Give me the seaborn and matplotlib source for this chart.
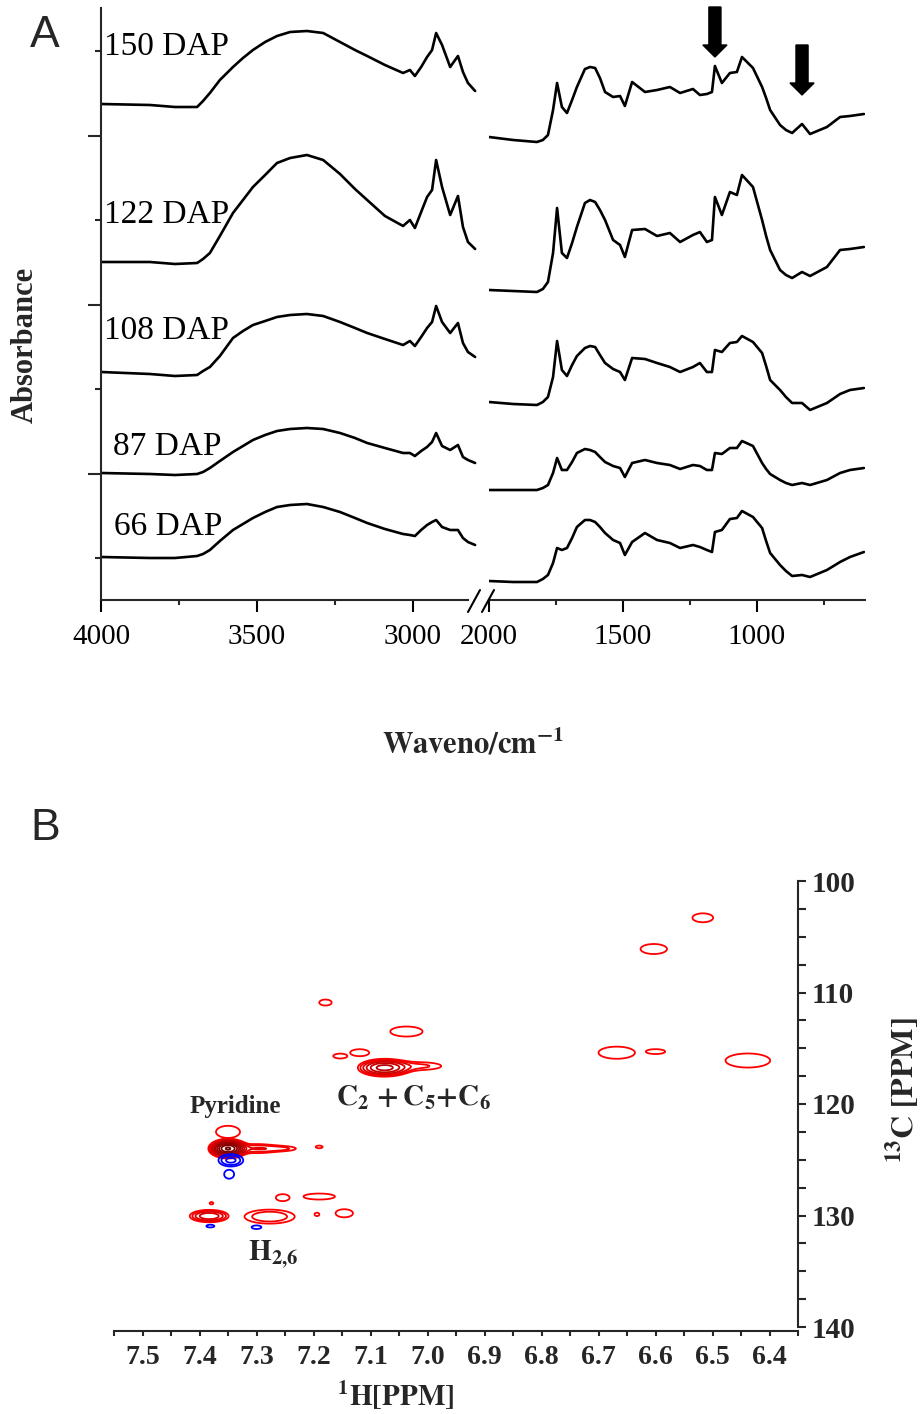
import numpy as np
import pandas as pd
import matplotlib
matplotlib.use("Agg")
import matplotlib.pyplot as plt
import seaborn as sns
from matplotlib.patches import FancyArrow
from matplotlib.lines import Line2D

# ---------------- Panel A data (FTIR, stacked, arbitrary absorbance units) ----------------
samples = ["150 DAP", "122 DAP", "108 DAP", "87 DAP", "66 DAP"]

wn_high = [4000, 3843, 3763, 3692, 3673, 3651, 3619, 3577, 3545, 3513, 3474, 3436, 3394, 3340,
           3288, 3234, 3186, 3147, 3090, 3032, 3010, 2994, 2974, 2955, 2939, 2926, 2907, 2881,
           2856, 2840, 2824, 2801]
abs_high_150 = [454, 453, 451, 451, 457, 465, 478, 491, 500, 508, 516, 522, 526, 527, 525, 516,
                508, 502, 493, 485, 488, 482, 491, 501, 508, 525, 513, 491, 502, 486, 475, 467]
abs_high_122 = [296, 296, 294, 295, 299, 305, 322, 345, 358, 371, 383, 395, 400, 403, 398, 384,
                369, 358, 342, 332, 338, 330, 346, 361, 368, 398, 371, 343, 362, 331, 316, 309]
abs_high_108 = [186, 184, 182, 183, 187, 191, 202, 220, 227, 233, 237, 241, 243, 244, 242, 236,
                230, 225, 219, 213, 217, 212, 221, 230, 236, 252, 236, 225, 235, 215, 206, 201]
abs_high_87 = [85, 84, 83, 84, 86, 90, 97, 106, 112, 118, 123, 127, 129, 130, 129, 125,
               120, 115, 110, 105, 105, 102, 107, 111, 116, 125, 112, 108, 113, 101, 98, 95]
abs_high_66 = [1, 0, 0, 2, 4, 8, 17, 28, 34, 40, 46, 51, 53, 54, 51, 46,
               40, 35, 29, 24, 23, 22, 28, 33, 36, 38, 31, 28, 28, 20, 16, 13]

wn_low = [2000, 1910, 1821, 1799, 1780, 1761, 1746, 1728, 1709, 1690, 1672, 1642, 1623, 1604,
          1586, 1567, 1537, 1511, 1493, 1466, 1418, 1373, 1325, 1287, 1239, 1213, 1187, 1168,
          1157, 1131, 1101, 1075, 1056, 1015, 981, 966, 951, 914, 892, 869, 832, 802, 739, 690,
          653, 601]
abs_low_150 = [421, 418, 416, 418, 423, 448, 475, 451, 445, 458, 471, 489, 491, 490, 480, 466,
               461, 462, 452, 476, 466, 468, 471, 465, 469, 463, 464, 466, 492, 475, 485, 486,
               501, 490, 471, 460, 448, 433, 428, 425, 434, 424, 431, 441, 442, 444]
abs_low_122 = [268, 267, 266, 269, 276, 305, 350, 305, 300, 315, 331, 355, 358, 356, 348, 338,
               318, 313, 301, 328, 329, 322, 325, 316, 323, 326, 316, 318, 361, 343, 366, 363,
               383, 371, 338, 322, 308, 288, 283, 280, 286, 282, 291, 308, 309, 311]
abs_low_108 = [156, 154, 153, 156, 161, 181, 217, 188, 182, 193, 202, 210, 212, 211, 203, 195,
               189, 186, 178, 200, 199, 195, 191, 186, 191, 195, 186, 186, 208, 206, 215, 216,
               222, 216, 205, 192, 178, 168, 161, 155, 155, 148, 155, 164, 168, 170]
abs_low_87 = [68, 68, 68, 70, 73, 85, 100, 88, 88, 96, 105, 109, 108, 106, 101, 96,
              92, 90, 81, 95, 98, 95, 93, 89, 93, 92, 88, 88, 105, 104, 110, 110,
              117, 112, 95, 89, 84, 78, 75, 73, 75, 73, 78, 85, 88, 90]
abs_low_66 = [-23, -24, -24, -21, -17, -5, 10, 8, 10, 20, 31, 38, 38, 36, 31, 25,
              18, 15, 3, 16, 25, 18, 15, 10, 13, 11, 8, 6, 26, 28, 39, 40,
              47, 41, 30, 17, 5, -7, -13, -18, -17, -19, -12, -4, 1, 6]

high_sets = [abs_high_150, abs_high_122, abs_high_108, abs_high_87, abs_high_66]
low_sets = [abs_low_150, abs_low_122, abs_low_108, abs_low_87, abs_low_66]
label_wn = [3990, 3990, 3990, 3962, 3958]
label_y = [503, 335, 219, 103, 23]
arrow_wn = [1157, 832]
arrow_tip = [501, 463]

ticks_high = [4000, 3500, 3000]
ticks_low = [2000, 1500, 1000]

# ---------------- Panel B data (2D HSQC cross peaks) ----------------
peak_h = [6.517, 6.603, 6.668, 6.600, 6.438, 7.179, 7.037, 7.153, 7.119, 7.076, 7.010,
          7.350, 7.350, 7.300, 7.250, 7.190, 7.345, 7.348,
          7.383, 7.379, 7.277, 7.194, 7.146, 7.254, 7.190, 7.381, 7.300]
peak_c = [103.3, 106.1, 115.4, 115.3, 116.1, 110.9, 113.5, 115.7, 115.4, 116.75, 116.6,
          122.5, 124.0, 124.0, 124.0, 123.85, 125.05, 126.3,
          130.05, 128.9, 130.1, 129.9, 129.8, 128.4, 128.3, 130.95, 131.05]
peak_sh = [0.025, 0.032, 0.044, 0.028, 0.054, 0.015, 0.039, 0.017, 0.023, 0.022, 0.035,
           0.029, 0.012, 0.028, 0.022, 0.010, 0.0157, 0.012,
           0.019, 0.006, 0.035, 0.007, 0.021, 0.0166, 0.038, 0.0116, 0.0118]
peak_sc = [0.55, 0.62, 0.75, 0.36, 0.87, 0.37, 0.62, 0.30, 0.43, 0.38, 0.34,
           0.75, 0.31, 0.32, 0.20, 0.20, 0.40, 0.55,
           0.31, 0.20, 0.50, 0.25, 0.50, 0.43, 0.37, 0.20, 0.22]
peak_amp = [1.3, 1.3, 1.3, 1.2, 1.3, 1.3, 1.3, 1.3, 1.3, 9.0, 1.6,
            1.3, 60.0, 2.2, 1.3, 1.2, -2.6, -1.3,
            5.0, 1.15, 2.2, 1.2, 1.3, 1.3, 1.3, -1.2, -1.3]
peak_group = [0, 1, 2, 3, 4, 5, 6, 7, 8, 9, 9,
              10, 11, 11, 11, 12, 13, 14,
              15, 16, 17, 18, 19, 20, 21, 22, 23]
pos_levels = [1, 1.5, 2.25, 3.4, 5.1, 7.6, 11.4, 17, 25.6, 38, 57]
neg_levels = [-2.25, -1.5, -1]
h_ticks = [7.5, 7.4, 7.3, 7.2, 7.1, 7.0, 6.9, 6.8, 6.7, 6.6, 6.5, 6.4]
c_ticks = [100, 110, 120, 130, 140]

# ---------------- Style ----------------
sns.set_theme(style="ticks")
plt.rcParams["font.family"] = ["Liberation Serif", "DejaVu Serif"]
plt.rcParams["mathtext.fontset"] = "stix"
plt.rcParams["axes.linewidth"] = 1.5

W, H = 922, 1414
fig = plt.figure(figsize=(W / 100, H / 100), dpi=100)


def fx(px):
    return px / W


def fy(py):
    return 1 - py / H


# ---------------- Panel A ----------------
axL = fig.add_axes([fx(101), fy(600), (477 - 101) / W, (600 - 8) / H])
axR = fig.add_axes([fx(489), fy(600), (865 - 489) / W, (600 - 8) / H])

dfH = pd.DataFrame([(s, w, a) for s, vals in zip(samples, high_sets) for w, a in zip(wn_high, vals)],
                   columns=["sample", "wavenumber", "absorbance"])
dfL = pd.DataFrame([(s, w, a) for s, vals in zip(samples, low_sets) for w, a in zip(wn_low, vals)],
                   columns=["sample", "wavenumber", "absorbance"])
pal = {s: "black" for s in samples}
sns.lineplot(data=dfH, x="wavenumber", y="absorbance", hue="sample", units="sample",
             estimator=None, palette=pal, legend=False, ax=axL, linewidth=1.9)
sns.lineplot(data=dfL, x="wavenumber", y="absorbance", hue="sample", units="sample",
             estimator=None, palette=pal, legend=False, ax=axR, linewidth=1.9)

for ax in (axL, axR):
    ax.set_ylim(-42, 550)
    ax.set_xlabel("")
    ax.set_ylabel("")
    ax.spines["top"].set_visible(False)
    ax.spines["right"].set_visible(False)
    ax.spines["bottom"].set_linewidth(1.5)
    ax.tick_params(axis="x", which="major", direction="out", length=8.6, width=1.5,
                   labelsize=21, pad=9, colors="black")
    ax.tick_params(axis="x", which="minor", direction="out", length=3.8, width=1.5)
    ax.set_facecolor("none")

axL.set_xlim(4000, 2795)
axL.set_xticks(ticks_high)
axL.set_xticks([3750, 3250], minor=True)
axL.spines["bottom"].set_bounds(4000, 2825)
axL.spines["left"].set_linewidth(1.5)
axL.set_yticks([84.5, 253.5, 422.5])
axL.set_yticks([0, 169, 338, 507], minor=True)
axL.tick_params(axis="y", which="major", direction="out", length=9.4, width=1.5, labelleft=False)
axL.tick_params(axis="y", which="minor", direction="out", length=4.3, width=1.5)

axR.set_xlim(2000, 597)
axR.set_xticks(ticks_low)
axR.set_xticks([1750, 1250, 750], minor=True)
axR.spines["left"].set_visible(False)
axR.set_yticks([])

for s, xw, yv in zip(samples, label_wn, label_y):
    axL.text(xw, yv, s, fontsize=24, ha="left", va="baseline", color="black")

for xw, tip in zip(arrow_wn, arrow_tip):
    axR.add_patch(FancyArrow(xw, tip + 50, 0, -50, width=45, head_width=90, head_length=12,
                             length_includes_head=True, color="black", clip_on=False))

# axis break marks
for x0 in (468, 482):
    fig.add_artist(Line2D([fx(x0), fx(x0 + 12)], [fy(612), fy(590)], color="black", lw=1.5))

fig.text(fx(25), fy(345), "Absorbance", rotation=90, fontsize=22, fontweight="bold",
         ha="center", va="center")
fig.text(fx(473), fy(745), r"$\mathbf{Waveno/cm^{-1}}$", fontsize=22, ha="center", va="center")
fig.text(fx(30), fy(47), "A", fontsize=32, family="Liberation Sans", ha="left", va="baseline")
fig.text(fx(30), fy(840), "B", fontsize=32, family="Liberation Sans", ha="left", va="baseline")

# ---------------- Panel B ----------------
axB = fig.add_axes([fx(114), fy(1327), (798 - 114) / W, (1327 - 881) / H])
hg = np.linspace(7.531, 6.361, 1500)
cg = np.linspace(100, 140, 1700)
groups = {}
for h0, c0, sh, sc, a, gid in zip(peak_h, peak_c, peak_sh, peak_sc, peak_amp, peak_group):
    g = a * np.outer(np.exp(-0.5 * ((cg - c0) / sc) ** 2), np.exp(-0.5 * ((hg - h0) / sh) ** 2))
    groups[gid] = groups.get(gid, 0) + g
Zpos = np.zeros((cg.size, hg.size))
Zneg = np.zeros((cg.size, hg.size))
for g in groups.values():
    Zpos = np.maximum(Zpos, g)
    Zneg = np.minimum(Zneg, g)

red_cols = [tuple(np.array([1.0, 0, 0]) * (1 - t) + np.array([0.45, 0, 0]) * t)
            for t in np.linspace(0, 1, len(pos_levels))]
axB.contour(hg, cg, Zpos, levels=pos_levels, colors=red_cols, linewidths=1.3,
            linestyles="solid")
axB.contour(hg, cg, Zneg, levels=neg_levels, colors="#0000ff", linewidths=1.3,
            linestyles="solid", negative_linestyles="solid")

axB.set_xlim(7.531, 6.361)
axB.set_ylim(140, 100)
axB.spines["top"].set_visible(False)
axB.spines["left"].set_visible(False)
axB.spines["bottom"].set_position(("outward", 3))
axB.yaxis.tick_right()
axB.set_xticks(h_ticks)
axB.set_xticks(np.arange(7.55, 6.35, -0.05), minor=True)
axB.set_xticklabels([f"{v:.1f}" for v in h_ticks])
axB.set_yticks(c_ticks)
axB.set_yticks(np.arange(100, 140.1, 2.5), minor=True)
axB.tick_params(axis="x", which="both", direction="out", length=3.6, width=1.5, labelsize=20, pad=6)
axB.tick_params(axis="y", which="both", direction="out", length=5.5, width=1.5, labelsize=21, pad=4)
for lab in axB.get_xticklabels() + axB.get_yticklabels():
    lab.set_fontweight("bold")

axB.text(7.418, 120.8, "Pyridine", fontsize=18, fontweight="bold", ha="left", va="baseline")
axB.text(7.16, 120.2, r"$\mathbf{C_2\,+C_5{+}C_6}$", fontsize=21, ha="left", va="baseline")
axB.text(7.315, 134.0, r"$\mathbf{H_{2{,}6}}$", fontsize=21, ha="left", va="baseline")

fig.text(fx(396), fy(1395), r"$\mathbf{^{1}H[PPM]}$", fontsize=21, ha="center", va="center")
fig.text(fx(903), fy(1090), r"$\mathbf{^{13}C\ [PPM]}$", fontsize=23, rotation=90,
         ha="center", va="center")

fig.savefig("out.png", dpi=100)
